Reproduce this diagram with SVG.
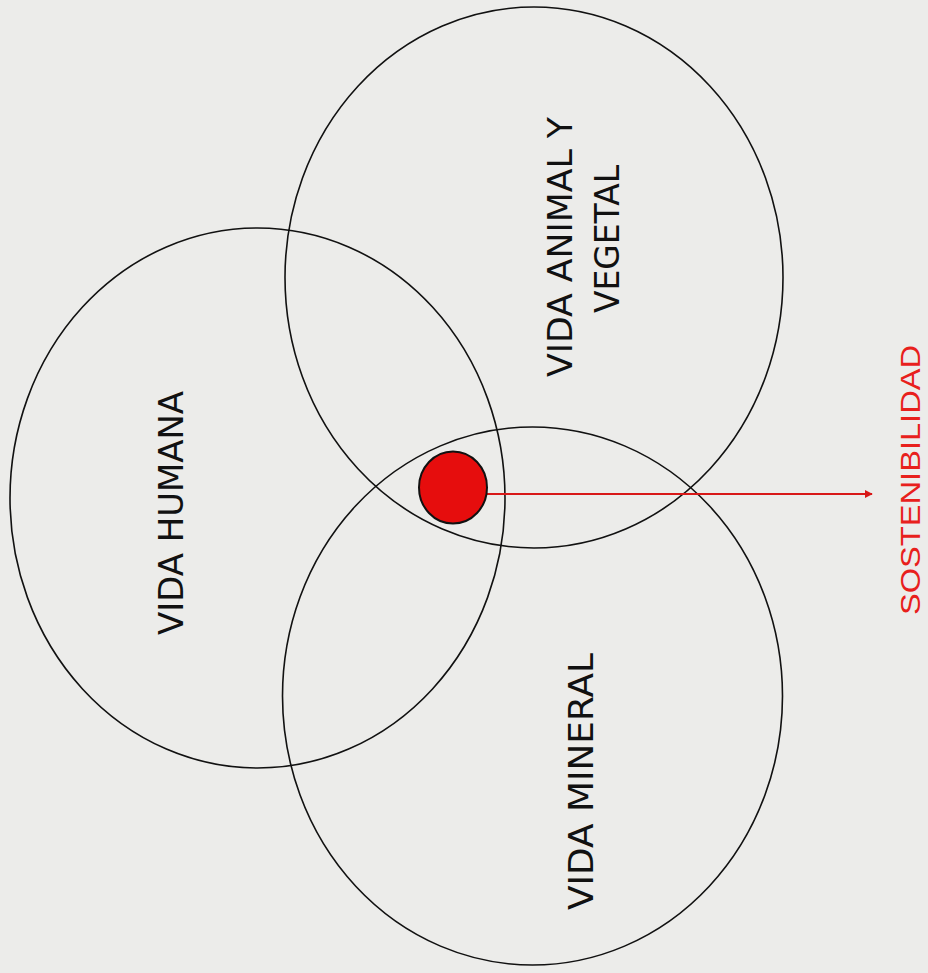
<svg xmlns="http://www.w3.org/2000/svg" width="928" height="973" viewBox="0 0 928 973">
<style>
.c{fill:none;stroke:#111;stroke-width:1.6}
.t{font-family:"DejaVu Sans","Liberation Sans",sans-serif;font-size:34px;fill:#111;text-anchor:middle}
.s{font-family:"Liberation Sans",Arial,sans-serif;font-size:28px;fill:#e8201c;text-anchor:middle}
</style>
<defs>
<marker id="ah" viewBox="0 0 10 10" refX="9" refY="5" markerWidth="4" markerHeight="4" orient="auto" markerUnits="strokeWidth">
<path d="M0,0 L10,5 L0,10 z" fill="#d81818"/>
</marker>
</defs>
<rect width="928" height="973" fill="#ececea"/>
<g id="humana">
<ellipse class="c" cx="257.5" cy="498" rx="247.5" ry="270"/>
<text class="t" transform="translate(183,513) rotate(-90)" textLength="244" lengthAdjust="spacingAndGlyphs">VIDA HUMANA</text>
</g>
<g id="animal">
<ellipse class="c" cx="534" cy="277.5" rx="249" ry="270.5"/>
<text class="t" transform="translate(572,247) rotate(-90)" textLength="260" lengthAdjust="spacingAndGlyphs">VIDA ANIMAL Y</text>
<text class="t" transform="translate(619,239) rotate(-90)" textLength="148" lengthAdjust="spacingAndGlyphs">VEGETAL</text>
</g>
<g id="mineral">
<ellipse class="c" cx="532.5" cy="696" rx="250" ry="269"/>
<text class="t" transform="translate(593,781.5) rotate(-90)" textLength="257" lengthAdjust="spacingAndGlyphs">VIDA MINERAL</text>
</g>
<g id="connectors">
<line x1="487" y1="494" x2="872" y2="494" stroke="#d81818" stroke-width="2" marker-end="url(#ah)"/>
</g>
<g id="sostenibilidad-dot">
<ellipse cx="453" cy="487.5" rx="34" ry="36" fill="#e60d0d" stroke="#111" stroke-width="2"/>
</g>
<g id="sostenibilidad">
<text class="s" transform="translate(920,480) rotate(-90)" textLength="270" lengthAdjust="spacingAndGlyphs">SOSTENIBILIDAD</text>
</g>
</svg>
